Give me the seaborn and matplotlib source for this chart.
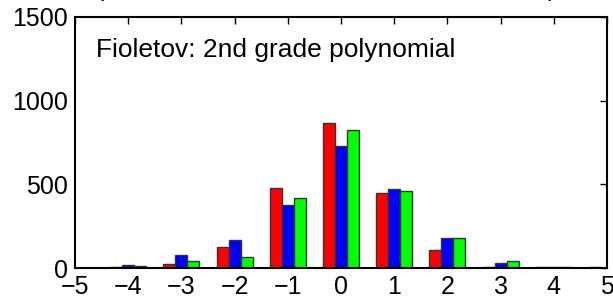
import numpy as np
import pandas as pd
import seaborn as sns
import matplotlib
matplotlib.use("Agg")
import matplotlib.pyplot as plt

# bin centres and counts for the three series
bins = [-5, -4, -3, -2, -1, 0, 1, 2, 3, 4, 5]
series_names = ["red", "blue", "green"]
red_counts = [4, 4, 24, 123, 480, 865, 448, 107, 6, 3, 3]
blue_counts = [2, 18, 75, 167, 375, 729, 474, 180, 32, 4, 2]
green_counts = [2, 14, 44, 67, 421, 825, 458, 177, 42, 3, 2]
y_ticks = [0, 500, 1000, 1500]
label_text = "Fioletov: 2nd grade polynomial"

df = pd.DataFrame({
    "bin": bins * 3,
    "count": red_counts + blue_counts + green_counts,
    "series": [s for s in series_names for _ in bins],
})

sns.set_style("white")
plt.rcParams["font.family"] = ["Liberation Sans", "DejaVu Sans"]
plt.rcParams["text.color"] = "black"

fig = plt.figure(figsize=(6.13, 3.0), dpi=100)
ax = fig.add_axes([75 / 613, 32 / 300, 532 / 613, 251 / 300])

sns.barplot(data=df, x="bin", y="count", hue="series", native_scale=True,
            palette=["#ff0000", "#0000ff", "#00ff00"], saturation=1,
            width=0.68, edgecolor="#333333", linewidth=1.0, legend=False,
            ax=ax)

ax.set_xlim(-5, 5)
ax.set_ylim(0, 1500)
ax.set_xticks(bins)
ax.set_xticklabels([str(b).replace("-", "\u2212") for b in bins])
ax.set_yticks(y_ticks)
ax.set_xlabel("")
ax.set_ylabel("")
ax.tick_params(direction="in", length=5, width=1, top=True, right=True,
               labelsize=18, colors="black", pad=5)
for sp in ax.spines.values():
    sp.set_visible(True)
    sp.set_color("black")
    sp.set_linewidth(1.5)

ax.text(0.04, 0.84, label_text, transform=ax.transAxes, fontsize=19,
        color="black", ha="left", va="baseline")

# tails of a title cut off by the top edge
fig.text(100 / 613, 1.012, "(", fontsize=18, ha="center", va="baseline")
fig.text(552 / 613, 1.012, ")", fontsize=18, ha="center", va="baseline")

fig.savefig("out.png", dpi=100)
